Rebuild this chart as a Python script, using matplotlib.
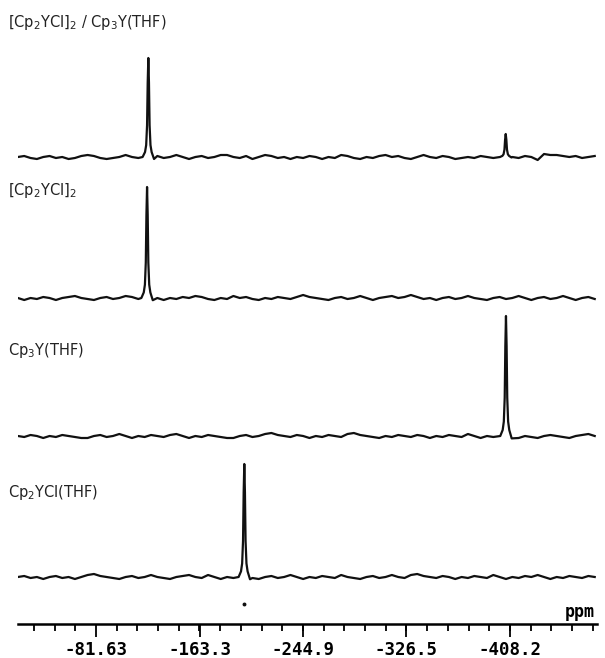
import numpy as np
import matplotlib.pyplot as plt

# chemical shift grid for the baselines (ppm)
ppm_grid = np.arange(-20.0, -477.0, -5.0)

# baseline wiggle of each trace, one value per grid point
noise_mix = [0, 1, -1, -2, 0, 1, -1, 0, -2, -1, 1, 2, 1, -1, -2, -1, 0, 2, 0, -1,
             -2, 0, 1, -1, 0, 2, 0, -2, 0, 1, -1, 0, 2, 2, 0, -1, 1, -2, 0, 2,
             1, -1, 0, -2, 0, -1, 1, 0, -2, 0, -1, 2, 1, -1, -2, 0, -1, 1, 2, 0,
             1, -1, -2, 0, 2, 0, -1, 1, 0, -2, -1, 0, -1, 1, 0, -1, -2, -1, 0, -1,
             1, 0, -3, 3, 2, 2, 1, 0, 1, -1, 0, 1]
noise_dimer = [0, -2, 0, -1, 1, 0, -2, 0, 1, 2, 0, -1, -2, 0, 1, -1, 0, 2, 1, -1,
               0, 2, 0, -2, 0, -1, 1, 0, 2, 1, -1, -2, 0, -1, 2, 0, 1, -1, -2, 0,
               -1, 1, 0, -1, 1, 3, 1, 0, -1, -2, 0, 1, -1, 0, 2, 0, -2, 0, 1, 2,
               0, 1, 3, 1, -1, 0, -2, 0, 1, -1, 0, 2, 0, -1, -2, 0, 1, -1, 0, 2,
               0, -2, 0, 1, -1, 0, 2, 0, -2, 0, 1, -1]
noise_cp3 = [0, -1, 1, 0, -2, 0, -1, 1, 0, -1, -2, -2, 0, 1, -1, 0, 2, 0, -2, 0,
             -1, 1, 0, -1, 1, 2, 0, -2, 0, -1, 1, 0, -1, -2, -2, 0, 1, -1, 0, 2,
             3, 1, 0, -1, 1, 0, -2, 0, -1, 1, 0, -1, 2, 3, 1, 0, -1, -2, 0, -1,
             1, 0, -1, 1, 0, -2, 0, -1, 1, 0, -1, 2, 0, -2, 0, -1, 1, 0, -1, -2,
             0, -1, -2, 0, 1, 0, -1, -2, 0, 1, 2, 0]
noise_cl = [0, 1, -1, 0, -2, 0, 1, -1, 0, -2, 0, 2, 3, 1, 0, -1, -2, 0, 1, -1,
            0, 2, 0, -1, -2, 0, 1, 2, 0, -1, 2, 0, -2, 0, -1, 1, 0, -1, -2, 0,
            1, -1, 0, 2, 0, -2, 0, -1, 1, 0, -1, 2, 0, -1, -2, 0, 1, -1, 0, 2,
            0, -1, 2, 3, 1, 0, -1, 1, 0, -2, 0, -1, 1, 0, -1, 2, 0, -2, 0, -1,
            1, 0, 2, 0, -2, 0, -1, 1, 0, -1, 1, 0]

# peak line shape: offset (ppm) and fraction of peak height
peak_off = [-4.5, -2.6, -1.7, -1.0, -0.5, 0.0, 0.5, 1.0, 1.7, 2.6, 4.5]
peak_frac = [-0.02, 0.05, 0.12, 0.32, 0.75, 1.0, 0.75, 0.32, 0.12, 0.05, 0.0]

# (label, baseline height, noise, peak positions, peak heights)
traces = [
    (r"[Cp$_2$YCl]$_2$ / Cp$_3$Y(THF)", 467, noise_mix, [-122.9, -404.8], [99, 23]),
    (r"[Cp$_2$YCl]$_2$", 326, noise_dimer, [-121.9], [111]),
    (r"Cp$_3$Y(THF)", 188, noise_cp3, [-405.0], [120]),
    (r"Cp$_2$YCl(THF)", 47, noise_cl, [-198.6], [113]),
]
label_y = [22, 190, 350, 492]

major = [-81.63, -163.3, -244.9, -326.5, -408.2]
major_lbl = ["-81.63", "-163.3", "-244.9", "-326.5", "-408.2"]

W, H = 605, 658
fig = plt.figure(figsize=(W / 100, H / 100), dpi=100)
ax = fig.add_axes([18 / W, (H - 624) / H, 579 / W, 624 / H])

for (label, base, noise, pk, ht), ly in zip(traces, label_y):
    x = np.array(ppm_grid)
    y = np.array(noise, dtype=float)
    keep = np.ones(len(x), bool)
    for p in pk:
        keep &= np.abs(x - p) > 5
    x, y = list(x[keep]), list(y[keep])
    for p, h in zip(pk, ht):
        x += [p + o for o in peak_off]
        y += [f * h for f in peak_frac]
    order = np.argsort(x)
    x = np.array(x)[order]
    y = np.array(y)[order] + base
    ax.plot(x, y, color="#111111", lw=1.6, solid_joinstyle="round")
    fig.text(8 / W, 1 - ly / H, label, fontsize=10.5, va="center", ha="left",
             color="#222222")

# reference mark under the bottom peak
ax.plot([-198.6], [20], marker="o", ms=1.8, color="#111111")

ax.set_xlim(-20.1, -476.8)
ax.set_ylim(0, 624)
for s in ["top", "left", "right"]:
    ax.spines[s].set_visible(False)
ax.spines["bottom"].set_linewidth(1.8)
ax.set_yticks([])
ax.set_xticks(major)
ax.set_xticklabels(major_lbl, family="DejaVu Sans Mono", fontsize=12.5,
                   fontweight="bold")
ax.set_xticks(np.arange(-32.652, -477, -16.326), minor=True)
ax.tick_params(axis="x", which="major", direction="out", length=9, width=1.3, pad=3)
ax.tick_params(axis="x", which="minor", direction="out", length=5, width=1.3)
ax.patch.set_alpha(0)

fig.text(580 / W, 1 - 612 / H, "ppm", family="DejaVu Sans Mono", fontsize=12,
         fontweight="bold", ha="center", va="center")

fig.savefig("out.png", dpi=100)
